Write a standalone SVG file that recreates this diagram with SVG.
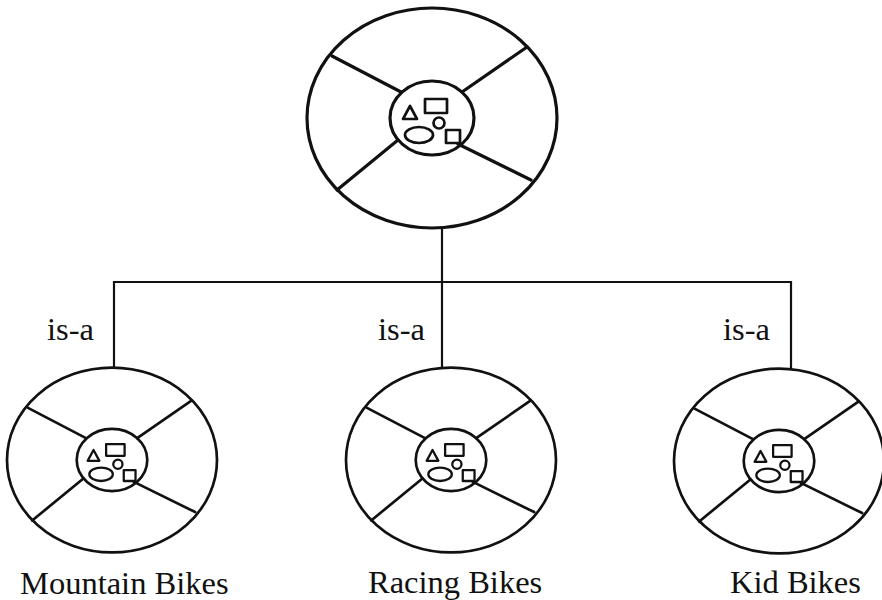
<svg xmlns="http://www.w3.org/2000/svg" xmlns:xlink="http://www.w3.org/1999/xlink" width="882" height="600" viewBox="0 0 882 600">
  <style>
    .ln { stroke: #111; fill: none; stroke-linecap: round; stroke-linejoin: round; }
    .conn { stroke: #111; stroke-width: 2.2; fill: none; }
    .lbl { font-family: "Liberation Serif", "Times New Roman", serif; font-size: 32.5px; fill: #111; }
  </style>
  <defs>
    <g id="bike">
      <ellipse class="ln" cx="0" cy="0" rx="125" ry="110" stroke-width="3.2"/>
      <ellipse class="ln" cx="0" cy="0" rx="42" ry="37" stroke-width="3.2"/>
      <line class="ln" x1="-100" y1="-62" x2="-31" y2="-26" stroke-width="3.2"/>
      <line class="ln" x1="95" y1="-71" x2="30" y2="-26" stroke-width="3.2"/>
      <line class="ln" x1="-95" y1="72" x2="-34" y2="22" stroke-width="3.2"/>
      <line class="ln" x1="99" y1="62" x2="26" y2="26" stroke-width="3.2"/>
      <polygon class="ln" points="-22,-12 -29,1 -15,1" stroke-width="2.7"/>
      <rect class="ln" x="-7" y="-19" width="22" height="14" stroke-width="2.7"/>
      <circle class="ln" cx="7" cy="5" r="5.5" stroke-width="2.7"/>
      <ellipse class="ln" cx="-13" cy="17" rx="14" ry="8" stroke-width="2.7"/>
      <rect class="ln" x="14" y="12" width="14" height="13" stroke-width="2.7"/>
    </g>
  </defs>

  <g id="connectors">
    <line class="conn" x1="442" y1="228" x2="442" y2="282"/>
    <line class="conn" x1="114" y1="282" x2="791" y2="282"/>
    <line class="conn" x1="114" y1="281" x2="114" y2="368"/>
    <line class="conn" x1="442" y1="281" x2="442" y2="368"/>
    <line class="conn" x1="791" y1="281" x2="791" y2="369"/>
    <text class="lbl" x="47" y="340">is-a</text>
    <text class="lbl" x="378" y="340">is-a</text>
    <text class="lbl" x="723" y="340">is-a</text>
  </g>

  <g id="node-bikes">
    <use xlink:href="#bike" href="#bike" transform="translate(432,118)"/>
  </g>
  <g id="node-mountain">
    <use xlink:href="#bike" href="#bike" transform="translate(112,460) scale(0.84)"/>
    <text class="lbl" x="20" y="594">Mountain Bikes</text>
  </g>
  <g id="node-racing">
    <use xlink:href="#bike" href="#bike" transform="translate(451,460) scale(0.84)"/>
    <text class="lbl" x="368" y="593">Racing Bikes</text>
  </g>
  <g id="node-kid">
    <use xlink:href="#bike" href="#bike" transform="translate(779,461) scale(0.84)"/>
    <text class="lbl" x="730" y="593">Kid Bikes</text>
  </g>
</svg>
